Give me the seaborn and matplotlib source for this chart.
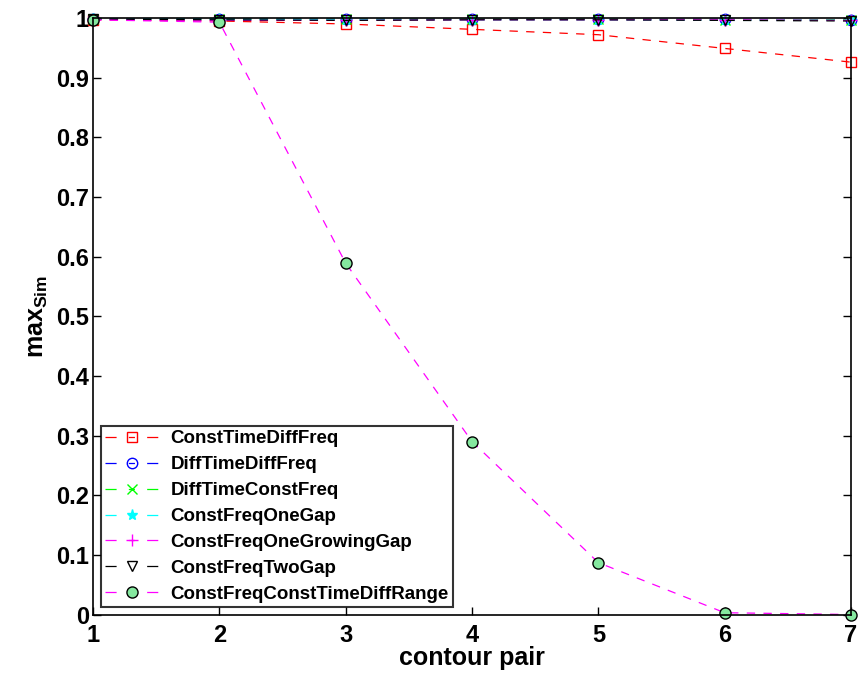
import matplotlib
matplotlib.use("Agg")
import matplotlib.pyplot as plt
import seaborn as sns
import numpy as np
import pandas as pd

x_pairs = [1, 2, 3, 4, 5, 6, 7]
names = ["ConstTimeDiffFreq", "DiffTimeDiffFreq", "DiffTimeConstFreq",
         "ConstFreqOneGap", "ConstFreqOneGrowingGap", "ConstFreqTwoGap",
         "ConstFreqConstTimeDiffRange"]
const_time_diff_freq = [0.997, 0.995, 0.990, 0.981, 0.972, 0.949, 0.926]
diff_time_diff_freq = [0.999, 0.999, 0.998, 0.998, 0.998, 0.998, 0.997]
diff_time_const_freq = [0.998, 0.998, 0.998, 0.998, 0.998, 0.997, 0.997]
const_freq_one_gap = [0.998, 0.998, 0.997, 0.997, 0.997, 0.996, 0.996]
const_freq_one_growing_gap = [0.997, 0.996, 0.996, 0.997, 0.997, 0.997, 0.996]
const_freq_two_gap = [0.998, 0.997, 0.996, 0.997, 0.997, 0.996, 0.995]
const_freq_const_time_diff_range = [0.997, 0.993, 0.589, 0.290, 0.087, 0.003, 0.0]
series = [const_time_diff_freq, diff_time_diff_freq, diff_time_const_freq,
          const_freq_one_gap, const_freq_one_growing_gap, const_freq_two_gap,
          const_freq_const_time_diff_range]

styles = [
    dict(color="#ff0000", marker="s", mfc="none", mec="#ff0000", ms=7),
    dict(color="#0000ff", marker="o", mfc="none", mec="#0000ff", ms=7.5),
    dict(color="#00ff00", marker="x", mfc="none", mec="#00ff00", ms=6.5),
    dict(color="#00ffff", marker="*", mfc="#00ffff", mec="#00ffff", ms=8),
    dict(color="#ff00ff", marker="+", mfc="none", mec="#ff00ff", ms=8),
    dict(color="#000000", marker="v", mfc="none", mec="#000000", ms=7.5),
    dict(color="#ff00ff", marker="o", mfc="#85E89F", mec="#000000", ms=8),
]

sns.set_style("ticks")
plt.rcParams["font.family"] = ["Liberation Sans", "DejaVu Sans"]
plt.rcParams["font.weight"] = "bold"
plt.rcParams["text.color"] = "black"
plt.rcParams["axes.labelcolor"] = "black"
plt.rcParams["xtick.color"] = "black"
plt.rcParams["ytick.color"] = "black"
plt.rcParams["mathtext.fontset"] = "custom"
plt.rcParams["mathtext.rm"] = "Liberation Sans:bold"
plt.rcParams["mathtext.bf"] = "Liberation Sans:bold"
plt.rcParams["mathtext.it"] = "Liberation Sans:bold"
plt.rcParams["lines.scale_dashes"] = False

fig = plt.figure(figsize=(8.59, 6.77), dpi=100)
ax = fig.add_axes([0.1083, 0.0923, 0.9907 - 0.1083, 0.9734 - 0.0923])

for name, vals, st in zip(names, series, styles):
    df = pd.DataFrame({"pair": x_pairs, "sim": vals})
    sns.lineplot(data=df, x="pair", y="sim", ax=ax, color=st["color"],
                 marker=st["marker"], markersize=st["ms"],
                 markerfacecolor=st["mfc"], markeredgecolor=st["mec"],
                 markeredgewidth=1.0, linewidth=0.9,
                 linestyle=(0, (6, 6)), label=name, clip_on=False,
                 legend=False)

ax.set_xlim(1, 7)
ax.set_ylim(0, 1)
ax.set_xticks(x_pairs)
yt = np.round(np.arange(0, 1.01, 0.1), 1)
ax.set_yticks(yt)
ax.set_yticklabels(["%g" % v for v in yt])
ax.tick_params(direction="in", length=6, width=1, top=True, right=True,
               labelsize=17, colors="black", labelcolor="black")
ax.tick_params(axis="x", pad=6.5)
ax.tick_params(axis="y", pad=3)
for sp in ax.spines.values():
    sp.set_visible(True)
    sp.set_linewidth(1.2)
    sp.set_color("black")
for lab in ax.get_xticklabels() + ax.get_yticklabels():
    lab.set_fontweight("bold")

ax.set_xlabel("contour pair", fontsize=18, fontweight="bold", labelpad=-0.5,
              color="black")
ax.set_ylabel(r"max$_{\mathrm{Sim}}$", fontsize=18, fontweight="bold",
              labelpad=4, color="black")

handles = ax.get_lines()[:7]
leg = ax.legend(handles, names, loc="lower left", bbox_to_anchor=(0.0, 0.0),
                prop={"size": 13.5, "weight": "bold"}, frameon=True,
                fancybox=False, handlelength=2.9, handletextpad=0.6,
                labelspacing=0.47, borderpad=0.22, borderaxespad=0.4,
                numpoints=1)
leg.get_frame().set_edgecolor("black")
leg.get_frame().set_linewidth(1.5)
for t in leg.get_texts():
    t.set_color("black")
for i, ln in enumerate(leg.get_lines()):
    if styles[i]["marker"] == "v":
        ln.set_linestyle((0, (8, 22, 8, 200)))
    else:
        ln.set_linestyle((0, (8, 8.8, 4.4, 8.8, 8, 200)))

fig.savefig("out.png", dpi=100)
